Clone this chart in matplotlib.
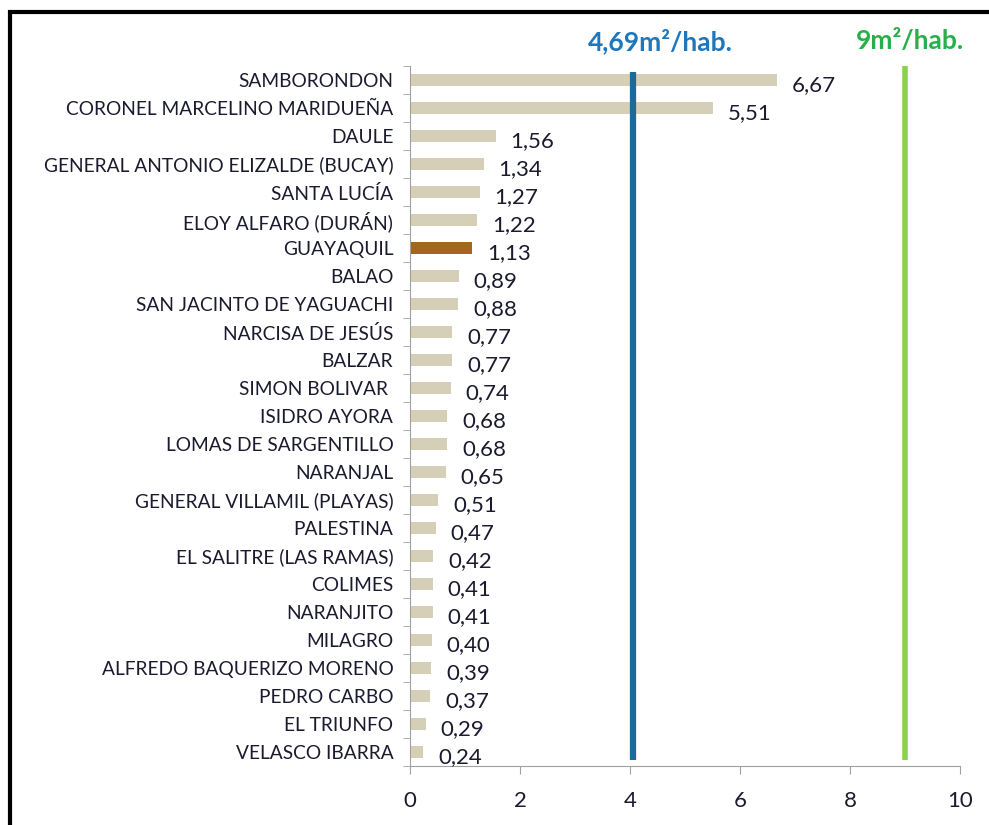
import numpy as np
import matplotlib.pyplot as plt
from matplotlib.patches import Rectangle

cantones = ['SAMBORONDON', 'CORONEL MARCELINO MARIDUEÑA', 'DAULE',
            'GENERAL ANTONIO ELIZALDE (BUCAY)', 'SANTA LUCÍA', 'ELOY ALFARO (DURÁN)',
            'GUAYAQUIL', 'BALAO', 'SAN JACINTO DE YAGUACHI', 'NARCISA DE JESÚS',
            'BALZAR', 'SIMON BOLIVAR ', 'ISIDRO AYORA', 'LOMAS DE SARGENTILLO',
            'NARANJAL', 'GENERAL VILLAMIL (PLAYAS)', 'PALESTINA', 'EL SALITRE (LAS RAMAS)',
            'COLIMES', 'NARANJITO', 'MILAGRO', 'ALFREDO BAQUERIZO MORENO',
            'PEDRO CARBO', 'EL TRIUNFO', 'VELASCO IBARRA']
valores = [6.67, 5.51, 1.56, 1.34, 1.27, 1.22, 1.13, 0.89, 0.88, 0.77, 0.77, 0.74,
           0.68, 0.68, 0.65, 0.51, 0.47, 0.42, 0.41, 0.41, 0.40, 0.39, 0.37, 0.29, 0.24]
x_ticks = [0, 2, 4, 6, 8, 10]
ref_nacional = 4      # line drawn at 4 in the original chart
ref_nacional_txt = '4,69m²/hab.'
ref_oms = 9
ref_oms_txt = '9m²/hab.'

plt.rcParams['font.family'] = ['Lato', 'DejaVu Sans']

beige = '#D6CFB8'
marron = '#A3661F'
azul = '#1A6A9A'
verde = '#8CD14B'
texto = '#1B1B2F'

fig = plt.figure(figsize=(9.89, 8.25), dpi=100)
ax = fig.add_axes([410/989, 1 - 766/825, 550/989, 700/825])

y = np.arange(len(cantones))
colores = [marron if c == 'GUAYAQUIL' else beige for c in cantones]
ax.barh(y, valores, height=0.42, color=colores)

for yi, v in zip(y, valores):
    ax.text(v + 0.27, yi + 0.17, '{:.2f}'.format(v).replace('.', ','),
            va='center', ha='left', fontsize=16, color=texto)

ax.plot([ref_nacional + 0.05] * 2, [-0.29, 24.3], color=azul, lw=4.5, solid_capstyle='butt')
ax.plot([ref_oms] * 2, [-0.54, 24.3], color=verde, lw=4, solid_capstyle='butt')
ax.text(4.55, -1.4, ref_nacional_txt, color='#1E76BC', fontsize=19,
        fontweight='bold', ha='center', va='center', clip_on=False)
ax.text(9.09, -1.4, ref_oms_txt, color='#27B04A', fontsize=19,
        fontweight='bold', ha='center', va='center', clip_on=False)

ax.set_ylim(len(cantones) - 0.5, -0.5)
ax.set_xlim(0, 10)
ax.set_yticks(y)
ax.set_yticklabels(cantones, fontsize=13.8, color=texto)
ax.set_yticks(np.arange(-0.5, len(cantones)), minor=True)
ax.tick_params(axis='y', which='major', length=0, pad=12)
ax.tick_params(axis='y', which='minor', length=5, color='#A0A0A0')
ax.set_xticks(x_ticks)
ax.set_xticklabels([str(t) for t in x_ticks], fontsize=16, color=texto)
ax.tick_params(axis='x', length=6, color='#A0A0A0', pad=12)

for s in ['top', 'right']:
    ax.spines[s].set_visible(False)
ax.spines['left'].set_color('#A0A0A0')
ax.spines['bottom'].set_color('#A0A0A0')

# black frame around the figure
fig.patches.append(Rectangle((10/989, -0.1), 1.2, 1 - 12/825 + 0.1, transform=fig.transFigure,
                             fill=False, edgecolor='black', lw=3))

fig.savefig('out.png', dpi=100)
